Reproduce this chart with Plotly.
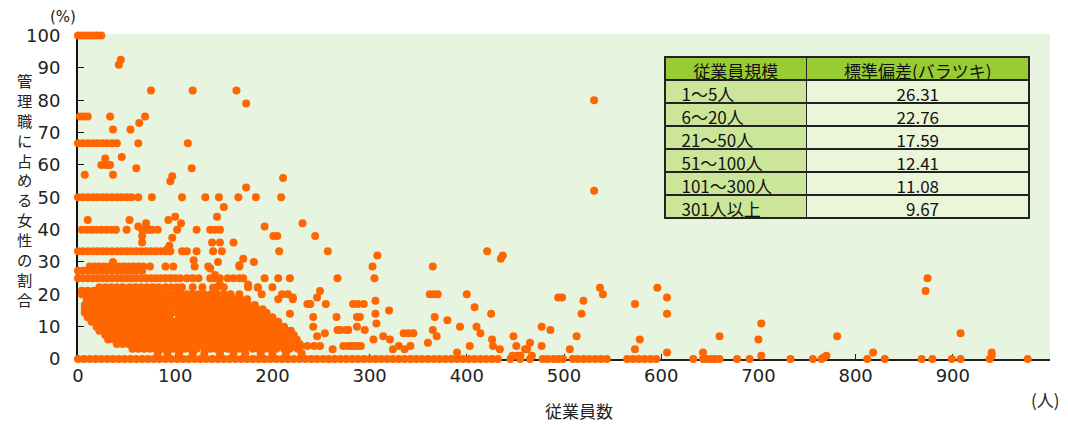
import plotly.graph_objects as go

# ---------------- values ----------------
# Dense horizontal runs: employee counts sharing one percentage level
emp_at_0 = [0, 6, 12, 18, 24, 30, 36, 42, 48, 54, 60, 66, 72, 78, 84, 90, 96, 102, 108, 114,
            120, 126, 132, 138, 144, 150, 156, 162, 168, 174, 180, 186, 192, 198, 204, 210,
            216, 222, 228, 234, 240, 246, 252, 258, 264, 270, 276, 282, 288, 294, 300, 306,
            312, 318, 324, 330, 336, 342, 348, 354, 360, 366, 372, 378, 384, 390, 396, 402,
            408, 414, 420, 426, 432, 445, 455, 465, 478, 483, 489, 494, 499, 509, 514, 520,
            526, 532, 538, 544, 565, 571, 577, 583, 589, 595, 633, 643, 647, 651, 655, 660,
            678, 691, 733, 756, 765, 812, 830, 868, 879, 899, 908, 938, 977]
emp_at_2 = [82, 92, 104, 118, 130, 146, 160, 172, 188, 200, 214, 230]
emp_at_3 = [56, 62, 68, 74, 80, 86, 92, 98, 104, 110, 116, 122, 130, 136, 142, 148, 154, 160,
            166, 172, 180, 186, 192, 198, 204, 212, 218, 226]
emp_at_5 = [40, 46, 52, 58, 64, 70, 76, 82, 88, 94, 100, 106, 112, 118, 124, 130, 136, 142,
            148, 154, 160, 166, 172, 178, 184, 190, 196, 202, 208, 214, 220, 228]
emp_at_6 = [31, 37, 43, 49, 55, 61, 67, 73, 79, 85, 91, 97, 103, 109, 115, 121, 127, 133, 139,
            145, 151, 157, 163, 169, 175, 181, 187, 193, 199, 205, 211, 217, 225]
emp_at_7 = [28, 34, 40, 46, 52, 58, 64, 70, 76, 82, 88, 94, 100, 106, 112, 118, 124, 130, 136,
            142, 148, 154, 160, 166, 172, 178, 184, 190, 196, 202, 208, 214, 222]
emp_at_9 = [22, 28, 34, 40, 46, 52, 58, 64, 70, 76, 82, 88, 94, 100, 106, 112, 118, 124, 130,
            136, 142, 148, 154, 160, 166, 172, 178, 184, 190, 196, 202, 208, 214, 219]
emp_at_10 = [19, 25, 31, 37, 43, 49, 55, 61, 67, 73, 79, 85, 91, 97, 103, 109, 115, 121, 127,
             133, 139, 145, 151, 157, 163, 169, 175, 181, 187, 193, 199, 205, 212]
emp_at_11 = [14, 20, 26, 32, 38, 44, 50, 56, 62, 68, 74, 80, 86, 92, 98, 104, 110, 116, 122,
             128, 134, 140, 146, 152, 158, 164, 170, 176, 182, 188, 194, 200, 206]
emp_at_13 = [10, 16, 22, 28, 34, 40, 46, 52, 58, 64, 70, 76, 82, 88, 94, 104, 110, 116, 122,
             128, 134, 140, 146, 152, 158, 164, 170, 176, 182, 188, 194, 200]
emp_at_14 = [7, 13, 19, 25, 31, 37, 43, 49, 55, 61, 67, 73, 79, 85, 91, 97, 103, 109, 115, 121,
             127, 133, 139, 145, 151, 157, 163, 169, 175, 181, 187, 194]
emp_at_15 = [7, 13, 19, 25, 31, 37, 43, 49, 55, 61, 67, 73, 79, 85, 91, 100, 106, 112, 118, 124,
             130, 136, 142, 148, 154, 160, 166, 172, 178, 184, 190]
emp_at_17 = [7, 13, 19, 25, 31, 37, 43, 49, 55, 61, 67, 73, 79, 85, 91, 97, 103, 109, 115, 121,
             127, 133, 139, 145, 151, 157, 163, 169, 175, 182]
emp_at_18 = [9, 15, 21, 27, 33, 39, 45, 51, 57, 63, 69, 75, 81, 87, 93, 99, 105, 111, 117, 123,
             129, 135, 141, 147, 153, 160, 167, 174, 206, 221]
emp_at_20 = [4, 10, 16, 22, 28, 34, 40, 46, 52, 58, 64, 70, 76, 82, 88, 94, 100, 106, 112, 118,
             124, 130, 137, 143, 150, 157, 166, 189, 210, 216]
emp_at_21 = [4, 10, 16, 22, 28, 34, 40, 46, 52, 58, 64, 70, 76, 83]
emp_at_22 = [22, 28, 34, 40, 46, 53, 59, 65, 71, 77, 83, 90, 96, 102, 107, 118, 128, 143, 150,
             175, 185, 200]
emp_at_25 = [0, 5, 10, 15, 20, 25, 30, 35, 40, 45, 50, 55, 60, 65, 70, 75, 80, 85, 90, 95, 100,
             105, 112, 118, 124, 136, 141, 146, 154, 160, 166, 170, 192, 206, 218, 267, 305]
emp_at_27 = [0, 5, 10, 15, 20, 25, 30, 35, 40, 45, 50, 55, 60, 66]
emp_at_29 = [12, 17, 22, 27, 32, 37, 42, 47, 52, 57, 62, 67, 74, 90, 98, 120, 134, 166, 303, 365]
emp_at_33 = [0, 5, 10, 15, 20, 25, 30, 35, 40, 45, 50, 55, 60, 65, 70, 75, 80, 85, 90, 95, 107,
             112, 122, 139, 148, 207, 257, 421]
emp_at_40 = [4, 9, 14, 19, 24, 29, 34, 39, 50, 66, 71, 76, 82, 102, 122, 136, 141, 146]
emp_at_50 = [0, 5, 10, 15, 20, 25, 30, 35, 40, 45, 50, 55, 62, 76, 107, 131, 145, 165, 183, 209]
emp_at_67 = [0, 5, 10, 15, 20, 25, 30, 35, 40, 62, 113]
emp_at_100 = [0, 4, 8, 12, 16, 20, 24]

row_levels = [0, 1.8, 3.2, 4.6, 6.0, 7.4, 8.7, 10, 11.5, 12.9, 14.3, 15.4, 16.7, 18.5, 20,
              21.1, 22.2, 25, 27.3, 28.6, 33.3, 40, 50, 66.7, 100]

# Individual scattered points
other_emp = [42, 44, 75, 118, 163, 173, 2, 6, 10, 33, 69, 63, 36, 54, 45, 24, 29, 33, 28, 7,
             36, 60, 117, 95, 97, 173, 211, 531, 531,
             10, 53, 62, 66, 70, 74, 93, 100, 106, 97, 143, 150, 146, 160, 192, 201, 205, 231,
             244, 138, 66, 94, 92, 308, 437, 435, 36, 119, 144, 136, 141, 146, 139, 181, 170,
             166, 175, 185, 221, 218,
             229, 236, 243, 249, 262, 273, 278, 283, 287, 291, 239, 255, 283, 288, 294, 306,
             249, 246, 236, 266, 242, 242, 287, 254, 246, 267, 270, 276, 278, 362, 366, 370,
             400, 320, 408, 425, 306, 367, 380, 290, 307, 287, 295, 393, 410, 314, 321, 335,
             340, 345, 365, 369, 414, 304, 360, 426, 427, 434, 448, 451, 460, 465, 477, 486,
             477, 494, 498, 403, 390, 324, 330, 336, 342, 282, 447, 452, 455, 467, 537, 540,
             520, 596, 606, 573, 518, 606, 513, 578, 573, 606, 506, 462, 660, 703, 700, 703,
             781, 818, 874, 872, 908, 940, 940, 643, 770, 767]
other_share = [91, 92.5, 83, 83, 83, 79, 75, 75, 75, 75, 75, 73, 71, 71, 62.5, 60, 60, 60, 62,
               57, 57, 59, 59, 55, 56.5, 53, 56, 80, 52,
               43, 43, 41, 38, 42, 40, 43, 44, 42, 37.5, 44, 47, 36, 36, 41, 38, 38, 42,
               38, 36, 36, 35, 34, 32, 32, 31, 30, 30.5, 30, 28, 26, 23, 22, 30, 31,
               29, 23, 22, 19, 14,
               4, 4, 4, 4, 3, 4, 4, 4, 4, 4, 17, 17, 17, 17, 17, 18,
               21, 19, 17, 13, 10, 13, 13, 8, 7, 9, 9, 9, 9, 20, 20, 20,
               20, 15, 16, 14, 14, 13, 12, 13, 11, 10, 9, 10, 10, 7, 6, 8,
               8, 8, 9, 7, 8, 6, 5, 6, 4, 3, 7, 4, 3, 5, 10, 9,
               4, 19, 19, 4, 2, 3, 4, 3, 4, 4, 1, 1, 1, 1, 22, 20,
               18, 22, 19, 17, 14, 14, 7, 6, 3, 2, 3, 3, 7, 11, 6, 1,
               7, 2, 25, 21, 8, 2, 1, 2, 1, 0.5]

# Table
size_classes = ["1〜5人", "6〜20人", "21〜50人", "51〜100人", "101〜300人", "301人以上"]
std_devs = ["26.31", "22.76", "17.59", "12.41", "11.08", "\u20079.67"]
table_header = ["従業員規模", "標準偏差(バラツキ)"]

x_ticks = [0, 100, 200, 300, 400, 500, 600, 700, 800, 900, 1000]
y_ticks = [0, 10, 20, 30, 40, 50, 60, 70, 80, 90, 100]
y_title = "管理職に占める女性の割合"

# ---------------- build ----------------
row_arrays = [emp_at_0, emp_at_2, emp_at_3, emp_at_5, emp_at_6, emp_at_7, emp_at_9, emp_at_10,
              emp_at_11, emp_at_13, emp_at_14, emp_at_15, emp_at_17, emp_at_18, emp_at_20,
              emp_at_21, emp_at_22, emp_at_25, emp_at_27, emp_at_29, emp_at_33, emp_at_40,
              emp_at_50, emp_at_67, emp_at_100]
xs, ys = [], []
for lvl, arr in zip(row_levels, row_arrays):
    xs += arr
    ys += [lvl] * len(arr)
xs += other_emp
ys += other_share

ORANGE = "#FF6600"
JP = "Noto Sans CJK JP"
NUM = "DejaVu Sans"
TXT = "#222222"

# The page body has an 8px margin, so the figure is drawn 8px smaller and
# everything is placed in page pixel terms minus that offset.
OFF = 8
PAGE_W, PAGE_H = 1068, 425
PL, PR, PT, PB = 78, 1050, 34, 359          # plot area in page pixels
W, H = PAGE_W - OFF, PAGE_H - OFF


def px_x(px):
    return (px - PL) / (PR - PL)


def px_y(py):
    return (PB - py) / (PB - PT)


fig = go.Figure()
fig.add_trace(go.Scatter(
    x=xs, y=ys, mode="markers",
    marker=dict(color=ORANGE, size=8, line=dict(width=0)),
    cliponaxis=False, hoverinfo="skip", showlegend=False,
))

fig.add_trace(go.Table(
    domain=dict(x=[px_x(665), px_x(1030)], y=[0.0, px_y(57)]),
    columnwidth=[142, 223],
    header=dict(values=table_header, fill_color="#99CC33",
                line=dict(color=TXT, width=1.5),
                font=dict(family=JP, size=17, color="#111111"),
                align="center", height=23),
    cells=dict(values=[["\u2002" + s for s in size_classes], std_devs],
               fill_color=[["#CCE699"] * 6, ["#EBF6D9"] * 6],
               line=dict(color=TXT, width=1.5),
               font=dict(family=JP, size=17, color="#111111"),
               align=["left", "center"], height=23),
))

annotations = [dict(text="<br>".join(y_title), xref="paper", yref="paper",
                    x=px_x(24), y=px_y(189), xanchor="center", yanchor="middle",
                    showarrow=False, font=dict(family=JP, size=15.3, color=TXT))]
annotations.append(dict(text="(%)", xref="paper", yref="paper",
                        x=px_x(63), y=px_y(17), xanchor="center", yanchor="middle",
                        showarrow=False, font=dict(family=NUM, size=15, color=TXT)))
for txt, cx, cy in [("従業員数", 579, 410), ("(人)", 1045, 399)]:
    annotations.append(dict(text=txt, xref="paper", yref="paper",
                            x=px_x(cx), y=px_y(cy),
                            xanchor="center", yanchor="middle", showarrow=False,
                            font=dict(family=JP, size=17, color=TXT)))

fig.update_layout(
    width=W, height=H,
    margin=dict(l=PL - OFF, r=W - (PR - OFF), t=PT - OFF, b=H - (PB - OFF), pad=0),
    paper_bgcolor="white", plot_bgcolor="#E7F4E0",
    annotations=annotations,
    xaxis=dict(range=[0, 1000], tickvals=x_ticks, ticktext=[str(v) for v in x_ticks],
               showgrid=False, zeroline=False, showline=True, linecolor=TXT,
               linewidth=1.5, ticks="inside", ticklen=5, tickcolor=TXT,
               tickfont=dict(family=NUM, size=18, color=TXT),
               layer="below traces", fixedrange=True, automargin=False),
    yaxis=dict(range=[0, 100.5], tickvals=y_ticks, ticktext=[str(v) for v in y_ticks],
               showgrid=False, zeroline=False, showline=True, linecolor="#111111",
               linewidth=2, ticks="inside", ticklen=6, tickcolor="#111111",
               tickfont=dict(family=NUM, size=18, color=TXT),
               ticklabelstandoff=12,
               layer="below traces", fixedrange=True, automargin=False),
)

fig.write_html("out.html")
